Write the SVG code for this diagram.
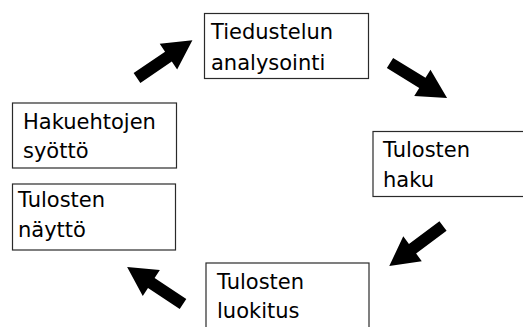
<svg xmlns="http://www.w3.org/2000/svg" xmlns:xlink="http://www.w3.org/1999/xlink" width="523" height="327" viewBox="0 0 523 327">
  <style>
    .box { fill: #ffffff; stroke: #2a2a2a; stroke-width: 1.2; }
    .label { font-family: "DejaVu Sans", sans-serif; font-size: 21px; fill: #000000; }
    .arrow { fill: #000000; }
  </style>
  <defs>
    <!-- block arrow pointing along +x, tail centred at the origin -->
    <path id="blockArrow" d="M0,-6 L38,-6 L38,-15.5 L67,0 L38,15.5 L38,6 L0,6 Z"/>
  </defs>
  <rect width="523" height="327" fill="#ffffff"/>

  <g id="connectors">
    <use xlink:href="#blockArrow" class="arrow" transform="translate(137,78) rotate(-34.2)"/>
    <use xlink:href="#blockArrow" class="arrow" transform="translate(390,63) rotate(31.6)"/>
    <use xlink:href="#blockArrow" class="arrow" transform="translate(443,226) rotate(143.3)"/>
    <use xlink:href="#blockArrow" class="arrow" transform="translate(183,304) rotate(213.5)"/>
  </g>

  <g id="node-analysointi">
    <rect class="box" x="204.5" y="13.5" width="164" height="65"/>
    <text class="label" x="211" y="38.5">Tiedustelun</text>
    <text class="label" x="211" y="69.5">analysointi</text>
  </g>

  <g id="node-haku">
    <rect class="box" x="373" y="131.5" width="160" height="65"/>
    <text class="label" x="383" y="156.5">Tulosten</text>
    <text class="label" x="383" y="186.5">haku</text>
  </g>

  <g id="node-hakuehdot">
    <rect class="box" x="12.5" y="103" width="164" height="65"/>
    <text class="label" x="23" y="128.5">Hakuehtojen</text>
    <text class="label" x="23" y="158">syöttö</text>
  </g>

  <g id="node-naytto">
    <rect class="box" x="12.5" y="184" width="163" height="66"/>
    <text class="label" x="18" y="206.5">Tulosten</text>
    <text class="label" x="18" y="236.5">näyttö</text>
  </g>

  <g id="node-luokitus">
    <rect class="box" x="206" y="263" width="163" height="80"/>
    <text class="label" x="217" y="289">Tulosten</text>
    <text class="label" x="217" y="318">luokitus</text>
  </g>
</svg>
